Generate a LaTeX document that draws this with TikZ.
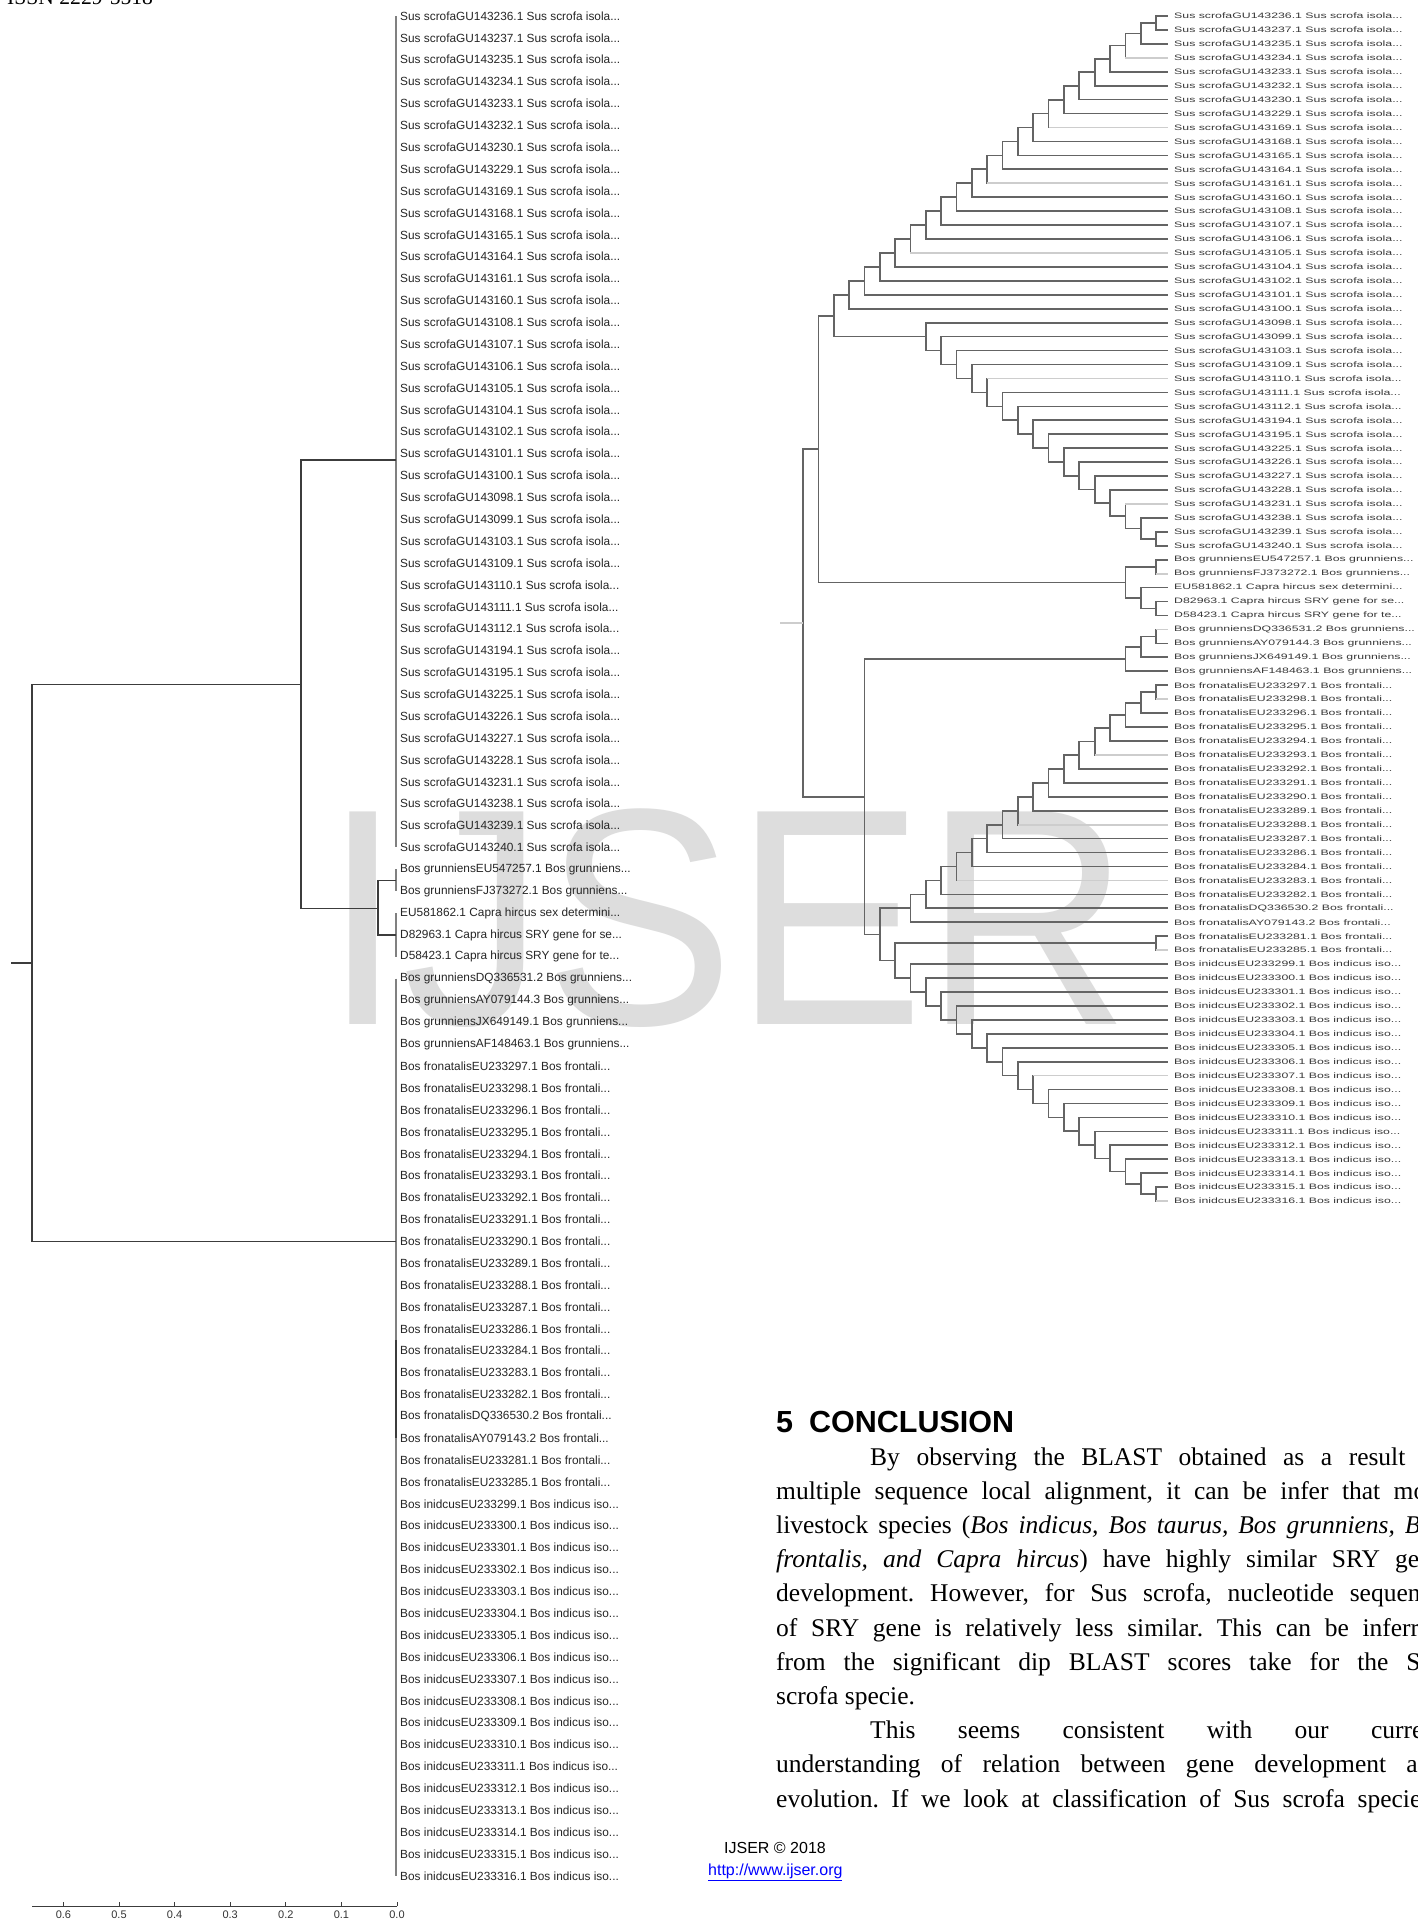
\documentclass[tikz,border=0pt]{standalone}
\usepackage{fontspec}
\setmainfont{Liberation Serif}
\setsansfont{Liberation Sans}
\usetikzlibrary{calc}
\definecolor{ij_link}{RGB}{0,0,255}
\definecolor{ij_mark}{RGB}{221,221,221}
\definecolor{ij_line}{RGB}{60,60,60}
\definecolor{ij_rline}{RGB}{100,100,100}
\definecolor{ij_light}{RGB}{205,205,205}
\frenchspacing

% one taxon: a row in the left tree and a row in the right tree
\newcommand\leafrow[2]{%
  \coordinate (s#1) at (396,{16+(#1-1)*21.88});
  \node[llab] (ls#1) at (400,{16+(#1-1)*21.88}) {#2};
  \coordinate (t#1) at (1168,{15.95+(#1-1)*13.943});
  \node[rlab] (lt#1) at (1174,{15.95+(#1-1)*13.943}) {\scalebox{1}[0.64]{#2}};
}
% inner node #1 at level #2 over children #3 and #4
\newcommand\clade[4]{%
  \path ($(#3)!.5!(#4)$) coordinate (m);
  \coordinate (#1) at (L#2 |- m);
  \draw[rbr] (#1) |- (#3);
  \draw[rbr] (#1) |- (#4);
}

\begin{document}
\begin{tikzpicture}[x=1pt,y=-1pt,
  lbr/.style={draw=ij_line,line width=1.3pt},
  lvert/.style={draw=black!50,line width=1.3pt},
  rbr/.style={draw=ij_rline,line width=1.7pt},
  rlight/.style={draw=ij_light,line width=1.7pt},
  llab/.style={anchor=west,inner sep=0pt,text=black!85,font=\sffamily\fontsize{11.85}{13}\selectfont},
  rlab/.style={anchor=west,inner sep=0pt,text=black!78,font=\sffamily\fontsize{12.3}{13}\selectfont},
  tick/.style={anchor=north,inner sep=0pt,text=black!80,font=\sffamily\fontsize{11}{12}\selectfont},
  body/.style={anchor=base west,inner sep=0pt,font=\fontsize{25.5}{34.2}\selectfont},
]
\fill[white] (0,0) rectangle (1417,1923);
\useasboundingbox (0,0) rectangle (1417,1923);

% watermark
\node[anchor=base west,inner sep=0pt,text=ij_mark,font=\sffamily\fontsize{309}{309}\selectfont]
  (wm) at (323,1024) {\scalebox{0.922}[1]{IJSER}};

% page header
\node[anchor=base west,inner sep=0pt,font=\fontsize{21.6}{24}\selectfont] (issn) at (7,4) {ISSN 2229-5518};

% taxa
\foreach \id [count=\i] in {236,237,235,234,233,232,230,229,169,168,165,164,161,160,108,107,106,105,104,102,101,100,098,099,103,109,110,111,112,194,195,225,226,227,228,231,238,239,240}
  {\leafrow{\i}{Sus scrofaGU143\id.1 Sus scrofa isola...}}
\leafrow{40}{Bos grunniensEU547257.1 Bos grunniens...}
\leafrow{41}{Bos grunniensFJ373272.1 Bos grunniens...}
\leafrow{42}{EU581862.1 Capra hircus sex determini...}
\leafrow{43}{D82963.1 Capra hircus SRY gene for se...}
\leafrow{44}{D58423.1 Capra hircus SRY gene for te...}
\leafrow{45}{Bos grunniensDQ336531.2 Bos grunniens...}
\leafrow{46}{Bos grunniensAY079144.3 Bos grunniens...}
\leafrow{47}{Bos grunniensJX649149.1 Bos grunniens...}
\leafrow{48}{Bos grunniensAF148463.1 Bos grunniens...}
\foreach \id [count=\i from 49] in {EU233297.1,EU233298.1,EU233296.1,EU233295.1,EU233294.1,EU233293.1,EU233292.1,EU233291.1,EU233290.1,EU233289.1,EU233288.1,EU233287.1,EU233286.1,EU233284.1,EU233283.1,EU233282.1,DQ336530.2,AY079143.2,EU233281.1,EU233285.1}
  {\leafrow{\i}{Bos fronatalis\id\ Bos frontali...}}
\foreach \n [count=\i from 69] in {299,...,316}
  {\leafrow{\i}{Bos inidcusEU233\n.1 Bos indicus iso...}}

% left tree
\coordinate (lstub) at (11,963);
\coordinate (lroot) at (32,963);
\coordinate (lup) at (301,684.5);
\coordinate (lsus) at (396,460);
\coordinate (lbc) at (378,908.3);
\coordinate (lbg) at ($(s40)!.5!(s41)$);
\coordinate (lcap) at (s43);
\coordinate (llow) at (396,1241.5);
\draw[lvert] (s1) -- (s39);
\draw[lvert] (s40) -- (s41);
\draw[lvert] (s42) -- (s44);
\draw[lvert] (s45) -- (s86);
\draw[lbr] ($(s61)!.5!(s62)$) -- (s66);
\draw[lbr] (lstub) -- (lroot);
\draw[lbr] (lroot) |- (lup);
\draw[lbr] (lroot) |- (llow);
\draw[lbr] (lup) |- (lsus);
\draw[lbr] (lup) |- (lbc);
\draw[lbr] (lbc) |- (lbg);
\draw[lbr] (lbc) |- (lcap);

% scale bar
\coordinate (ax0) at (32,1906);
\coordinate (ax1) at (397,1906);
\draw[lbr,line width=1pt] (ax0) -- (ax1);
\foreach \v [count=\k from 0] in {0.0,0.1,0.2,0.3,0.4,0.5,0.6}{
  \coordinate (tk\k) at ({397-55.6*\k},1906);
  \draw[lbr,line width=1pt] (tk\k) -- ++(0,-4);
  \node[tick] (tl\k) at ({397-55.6*\k},1910.5) {\v};
}

% right tree, levels
\foreach \n in {0,...,23}{\coordinate (L\n) at ({803+15.35*\n},0);}
% Sus scrofa, upper ladder
\clade{su2}{23}{t1}{t2}
\foreach \k [remember=\k as \j (initially 2)] in {3,...,22}{
  \pgfmathtruncatemacro\lv{25-\k}
  \clade{su\k}{\lv}{su\j}{t\k}
}
% Sus scrofa, lower ladder
\clade{sd38}{23}{t38}{t39}
\foreach \k [remember=\k as \j (initially 38)] in {37,36,...,23}{
  \pgfmathtruncatemacro\lv{\k-15}
  \clade{sd\k}{\lv}{t\k}{sd\j}
}
\clade{sus}{2}{su22}{sd23}
% Bos grunniens / Capra hircus
\clade{b41}{23}{t40}{t41}
\clade{c44}{23}{t43}{t44}
\clade{c42}{22}{t42}{c44}
\clade{bc}{21}{b41}{c42}
\clade{up}{1}{sus}{bc}
% Bos grunniens
\clade{g46}{23}{t45}{t46}
\clade{g47}{22}{g46}{t47}
\clade{g48}{21}{g47}{t48}
% Bos frontalis ladder
\clade{fr50}{23}{t49}{t50}
\foreach \k [remember=\k as \j (initially 50)] in {51,...,66}{
  \pgfmathtruncatemacro\lv{73-\k}
  \clade{fr\k}{\lv}{fr\j}{t\k}
}
% Bos indicus ladder
\clade{id85}{23}{t85}{t86}
\foreach \k [remember=\k as \j (initially 85)] in {84,83,...,69}{
  \pgfmathtruncatemacro\lv{\k-62}
  \clade{id\k}{\lv}{t\k}{id\j}
}
\clade{pr}{23}{t67}{t68}
\clade{n6}{6}{pr}{id69}
\clade{n5}{5}{fr66}{n6}
\clade{low}{4}{g48}{n5}
\clade{root}{0}{up}{low}
\coordinate (rstub) at (780,0 |- root);
\draw[rlight] (rstub) -- (root);
% faint leaf lines
\foreach \r/\p in {4/su4,9/su9,13/su13,18/su18,27/sd27,36/sd36,41/b41,45/g46,50/fr50,54/fr54,59/fr59,63/fr63,68/pr,77/id77,86/id85}
  {\draw[rlight] (\p |- t\r) -- (t\r);}

% conclusion
\node[anchor=base west,inner sep=0pt,font=\sffamily\bfseries\fontsize{30.5}{36}\selectfont]
  (ctitle) at (776,1432.7) {5\hspace{16pt}CONCLUSION};
\node[body] (c1) at (870,1465) {\makebox[573pt][s]{By observing the BLAST obtained as a result of}};
\node[body] (c2) at (776,1499.2) {\makebox[667pt][s]{multiple sequence local alignment, it can be infer that most}};
\node[body] (c3) at (776,1533.4) {\makebox[667pt][s]{livestock species (\textit{Bos indicus, Bos taurus, Bos grunniens, Bos}}};
\node[body] (c4) at (776,1567.6) {\makebox[667pt][s]{\textit{frontalis, and Capra hircus}) have highly similar SRY gene}};
\node[body] (c5) at (776,1601.8) {\makebox[667pt][s]{development. However, for Sus scrofa, nucleotide sequence}};
\node[body] (c6) at (776,1636) {\makebox[667pt][s]{of SRY gene is relatively less similar. This can be inferred}};
\node[body] (c7) at (776,1670.2) {\makebox[667pt][s]{from the significant dip BLAST scores take for the Sus}};
\node[body] (c8) at (776,1704.4) {scrofa specie.};
\node[body] (c9) at (870,1738.6) {\makebox[573pt][s]{This seems consistent with our current}};
\node[body] (c10) at (776,1772.8) {\makebox[667pt][s]{understanding of relation between gene development and}};
\node[body] (c11) at (776,1807) {\makebox[655pt][s]{evolution. If we look at classification of Sus scrofa species}};

% footer
\node[anchor=base west,inner sep=0pt,font=\sffamily\fontsize{16}{18}\selectfont] (cpy) at (724,1853) {IJSER \textcopyright\ 2018};
\node[anchor=base west,inner sep=0pt,text=ij_link,font=\sffamily\fontsize{16}{18}\selectfont] (url) at (708,1875) {\underline{http://www.ijser.org}};
\end{tikzpicture}
\end{document}
